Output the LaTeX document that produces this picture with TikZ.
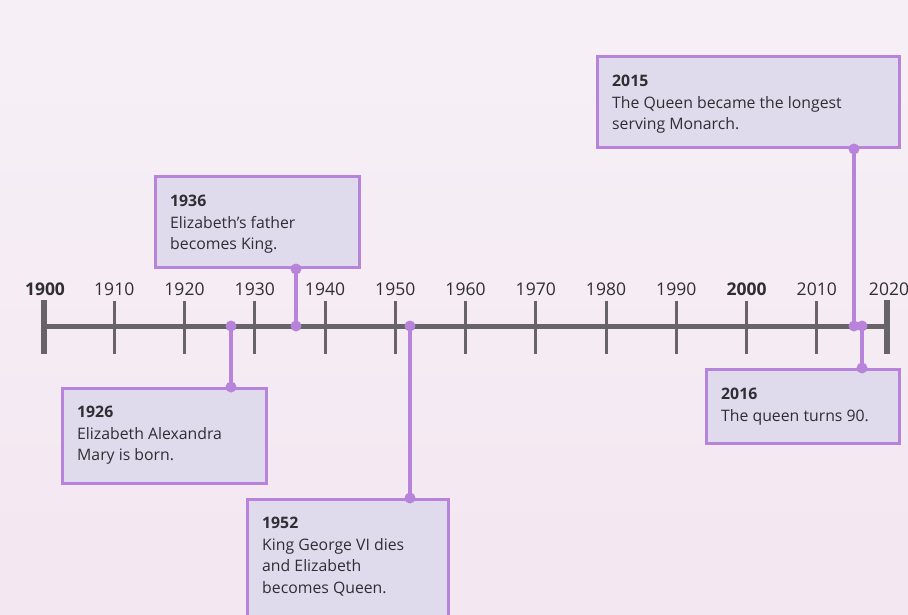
\documentclass[tikz,border=0pt]{standalone}
\usepackage{fontspec}
\setmainfont{Open Sans}
\definecolor{bgtop}{HTML}{F6F0F6}
\definecolor{bgbot}{HTML}{F3E7F1}
\definecolor{evpurple}{HTML}{B883DA}
\definecolor{evfill}{HTML}{DFDBEC}
\definecolor{txt}{HTML}{2E2E33}
\definecolor{axisgray}{HTML}{666466}
\begin{document}
\begin{tikzpicture}[x=1pt,y=-1pt,
  evbox/.style={draw=evpurple, line width=3pt, fill=evfill, inner sep=0pt, anchor=north west},
  evtext/.style={anchor=north west, align=left, inner sep=0pt, text=txt,
                 font=\fontsize{15.8}{21.6}\selectfont},
  yearlbl/.style={text=txt, inner sep=0pt, font=\fontsize{17.5}{20}\selectfont},
  conn/.style={draw=evpurple, line width=3.2pt},
  evdot/.style={circle, fill=evpurple, inner sep=0pt, minimum size=11pt},
  axisline/.style={draw=axisgray, line width=5pt},
  tick/.style={draw=axisgray, line width=3pt},
  endtick/.style={draw=axisgray, line width=6pt}]
\fill[top color=bgtop, bottom color=bgbot] (0,0) rectangle (908,615);
\useasboundingbox (0,0) rectangle (908,615);

% axis
\coordinate (ax0) at (44,326);
\coordinate (ax1) at (887,326);
\draw[axisline] (ax0) -- (ax1);
\draw[endtick] (44,300) -- (44,354);
\draw[endtick] (887,300) -- (887,354);
\foreach \i in {1,...,11}{
  \draw[tick] ({44+70.25*\i},301) -- ({44+70.25*\i},354);
}
% year labels
\node[yearlbl, font=\fontsize{17.5}{20}\selectfont\bfseries] (y1900) at (45,289) {1900};
\foreach \i/\yr in {1/1910,2/1920,3/1930,4/1940,5/1950,6/1960,7/1970,8/1980,9/1990,11/2010}{
  \node[yearlbl] (y\yr) at ({44+70.25*\i},289) {\yr};
}
\node[yearlbl, font=\fontsize{17.5}{20}\selectfont\bfseries] (y2000) at (746.5,289) {2000};
\node[yearlbl] (y2020) at (889,289) {2020};

% event boxes
\node[evbox, minimum width=302pt, minimum height=91pt] (b2015) at (596,55) {};
\node[evtext] (t2015) at (612,75) {\textbf{2015}\\The Queen became the longest\\serving Monarch.};

\node[evbox, minimum width=204pt, minimum height=91pt] (b1936) at (154,175) {};
\node[evtext] (t1936) at (170,195) {\textbf{1936}\\Elizabeth’s father\\becomes King.};

\node[evbox, minimum width=204pt, minimum height=95pt] (b1926) at (61,387) {};
\node[evtext] (t1926) at (77,406) {\textbf{1926}\\Elizabeth Alexandra\\Mary is born.};

\node[evbox, minimum width=201pt, minimum height=118pt] (b1952) at (246,498) {};
\node[evtext] (t1952) at (262,517) {\textbf{1952}\\King George VI dies\\and Elizabeth\\becomes Queen.};

\node[evbox, minimum width=193pt, minimum height=74pt] (b2016) at (705,368) {};
\node[evtext] (t2016) at (721,388) {\textbf{2016}\\The queen turns 90.};

% connectors
\coordinate (a1926) at (231,326);
\coordinate (a1936) at (296,326);
\coordinate (a1952) at (410,326);
\coordinate (a2015) at (854,326);
\coordinate (a2016) at (862,326);

\draw[conn] (a1926) -- (a1926 |- b1926.north);
\draw[conn] (a1936) -- (a1936 |- b1936.south);
\draw[conn] (a1952) -- (a1952 |- b1952.north);
\draw[conn] (a2015) -- (a2015 |- b2015.south);
\draw[conn] (a2016) -- (a2016 |- b2016.north);

\node[evdot] (d1926a) at (a1926) {};
\node[evdot] (d1926b) at (a1926 |- b1926.north) {};
\node[evdot] (d1936a) at (a1936) {};
\node[evdot] (d1936b) at (a1936 |- b1936.south) {};
\node[evdot] (d1952a) at (a1952) {};
\node[evdot] (d1952b) at (a1952 |- b1952.north) {};
\node[evdot] (d2015a) at (a2015) {};
\node[evdot] (d2015b) at (a2015 |- b2015.south) {};
\node[evdot] (d2016a) at (a2016) {};
\node[evdot] (d2016b) at (a2016 |- b2016.north) {};
\end{tikzpicture}
\end{document}
